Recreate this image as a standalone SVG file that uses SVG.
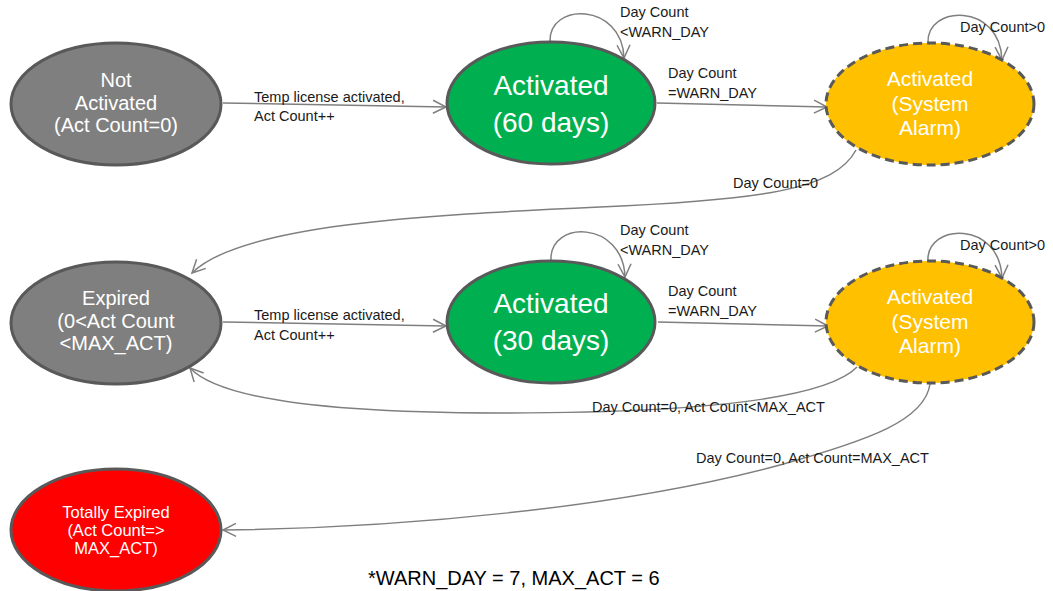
<svg xmlns="http://www.w3.org/2000/svg" width="1053" height="591" viewBox="0 0 1053 591">
<style>
.node{stroke:#595959;stroke-width:3}
.gray{fill:#7f7f7f}
.green{fill:#00b050}
.yellow{fill:#ffc000;stroke-dasharray:9 5}
.red{fill:#ff0000}
.nt{fill:#ffffff;font-family:"Liberation Sans",Arial,sans-serif;text-anchor:middle}
.lbl{fill:#1a1a1a;font-family:"Liberation Sans",Arial,sans-serif;font-size:14.5px}
.edge{fill:none;stroke:#7f7f7f;stroke-width:1.5;marker-end:url(#arr)}
</style>
<defs>
<marker id="arr" viewBox="0 0 16 16" refX="14" refY="8" markerWidth="16" markerHeight="16" markerUnits="userSpaceOnUse" orient="auto">
<path d="M1,1.5 L14,8 L1,14.5" fill="none" stroke="#7f7f7f" stroke-width="1.5"/>
</marker>
</defs>
<rect width="1053" height="591" fill="#ffffff"/>
<g id="connectors">
<path class="edge" d="M223,103 L446,107"/>
<path class="edge" d="M550,42 C548,2 622,2 624,58"/>
<path class="edge" d="M657,103 L827,107"/>
<path class="edge" d="M928,43 C926,5 1000,2 1002,60"/>
<path class="edge" d="M856,150 C835,190 760,200 600,207 C420,215 240,225 192,273"/>
<path class="edge" d="M223,322 L446,326"/>
<path class="edge" d="M551,260 C549,220 623,220 625,277"/>
<path class="edge" d="M658,322 L828,326"/>
<path class="edge" d="M928,261 C926,223 1000,220 1002,278"/>
<path class="edge" d="M857,367 C820,405 650,413 500,413 C330,413 220,400 190,368"/>
<path class="edge" d="M930,384 C925,420 870,440 780,465 C620,508 400,528 223,530"/>
<text class="lbl" x="254" y="102">Temp license activated,</text>
<text class="lbl" x="254" y="121">Act Count++</text>
<text class="lbl" x="620" y="17">Day Count</text>
<text class="lbl" x="620" y="37">&lt;WARN_DAY</text>
<text class="lbl" x="668" y="78">Day Count</text>
<text class="lbl" x="668" y="98">=WARN_DAY</text>
<text class="lbl" x="960" y="32">Day Count&gt;0</text>
<text class="lbl" x="733" y="188">Day Count=0</text>
<text class="lbl" x="254" y="320">Temp license activated,</text>
<text class="lbl" x="254" y="340">Act Count++</text>
<text class="lbl" x="620" y="235">Day Count</text>
<text class="lbl" x="620" y="255">&lt;WARN_DAY</text>
<text class="lbl" x="668" y="296">Day Count</text>
<text class="lbl" x="668" y="316">=WARN_DAY</text>
<text class="lbl" x="960" y="250">Day Count&gt;0</text>
<text class="lbl" x="592" y="412">Day Count=0, Act Count&lt;MAX_ACT</text>
<text class="lbl" x="696" y="463">Day Count=0, Act Count=MAX_ACT</text>
</g>
<g id="not-activated">
<ellipse class="node gray" cx="116" cy="104" rx="105" ry="61"/>
<text class="nt" font-size="20" x="116" y="87">Not</text>
<text class="nt" font-size="20" x="116" y="110">Activated</text>
<text class="nt" font-size="20" x="116" y="132">(Act Count=0)</text>
</g>
<g id="activated-60">
<ellipse class="node green" cx="551" cy="103" rx="104" ry="61"/>
<text class="nt" font-size="28" x="551" y="95">Activated</text>
<text class="nt" font-size="28" x="551" y="132">(60 days)</text>
</g>
<g id="alarm-1">
<ellipse class="node yellow" cx="930" cy="104" rx="104" ry="61"/>
<text class="nt" font-size="21" x="930" y="86">Activated</text>
<text class="nt" font-size="21" x="930" y="110.5">(System</text>
<text class="nt" font-size="21" x="930" y="135">Alarm)</text>
</g>
<g id="expired">
<ellipse class="node gray" cx="116" cy="323" rx="105" ry="61"/>
<text class="nt" font-size="20" x="116" y="305">Expired</text>
<text class="nt" font-size="20" x="116" y="328">(0&lt;Act Count</text>
<text class="nt" font-size="20" x="116" y="350">&lt;MAX_ACT)</text>
</g>
<g id="activated-30">
<ellipse class="node green" cx="551" cy="322" rx="104" ry="61"/>
<text class="nt" font-size="28" x="551" y="313">Activated</text>
<text class="nt" font-size="28" x="551" y="350">(30 days)</text>
</g>
<g id="alarm-2">
<ellipse class="node yellow" cx="930" cy="322" rx="104" ry="61"/>
<text class="nt" font-size="21" x="930" y="304">Activated</text>
<text class="nt" font-size="21" x="930" y="328.5">(System</text>
<text class="nt" font-size="21" x="930" y="353">Alarm)</text>
</g>
<g id="totally-expired">
<ellipse class="node red" cx="116" cy="530" rx="105" ry="61"/>
<text class="nt" font-size="16.5" x="116" y="518">Totally Expired</text>
<text class="nt" font-size="16.5" x="116" y="536">(Act Count=&gt;</text>
<text class="nt" font-size="16.5" x="116" y="554">MAX_ACT)</text>
</g>
<text x="368" y="585" font-family="'Liberation Sans',Arial,sans-serif" font-size="20" fill="#000000">*WARN_DAY = 7, MAX_ACT = 6</text>
</svg>
